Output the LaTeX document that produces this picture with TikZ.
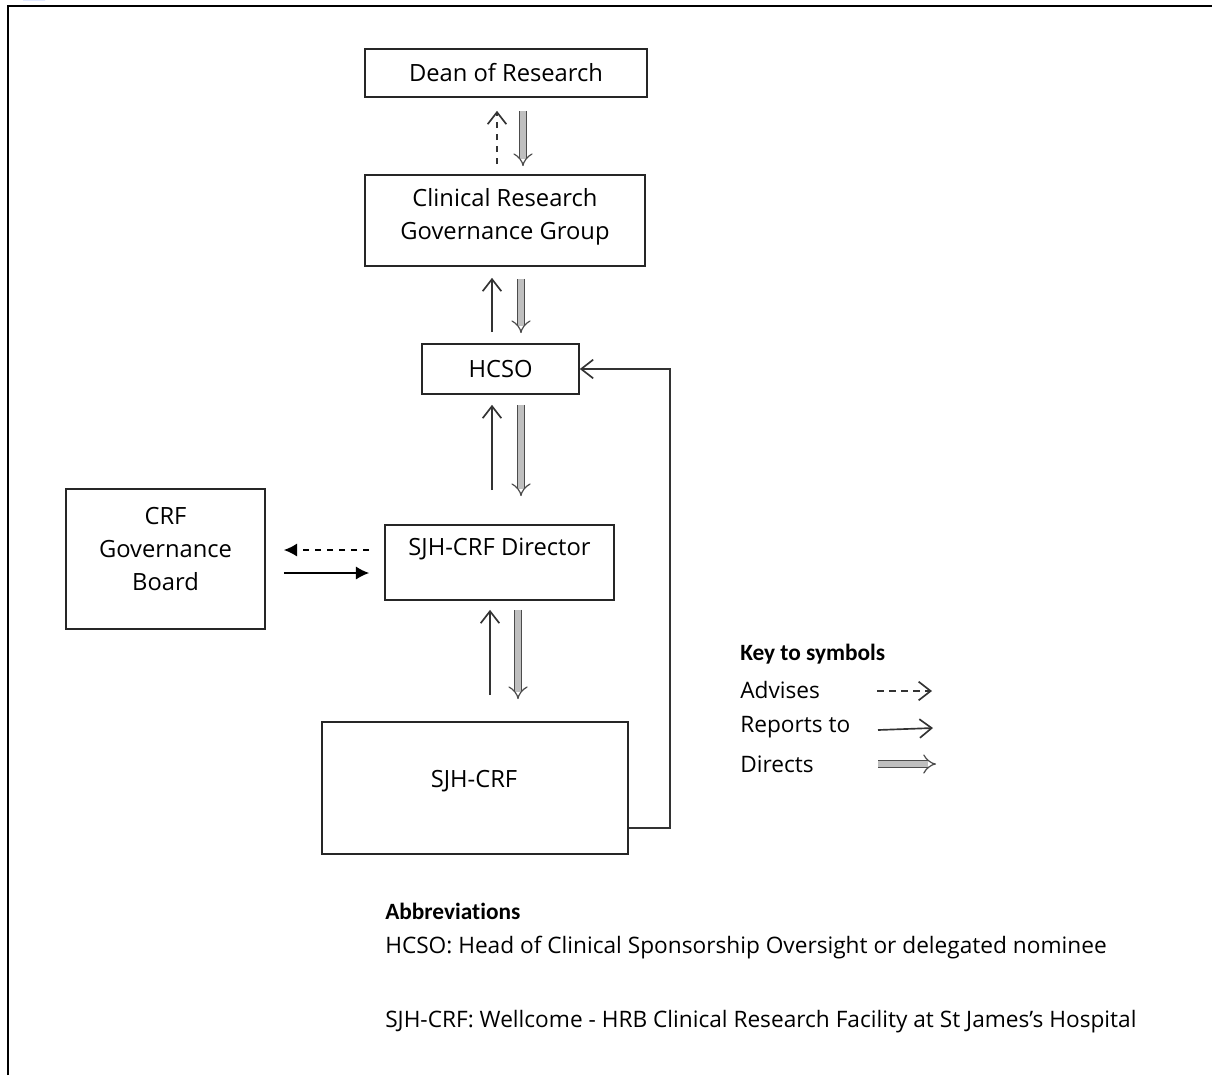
\documentclass[tikz,border=0pt]{standalone}
\usepackage{fontspec}
\setmainfont{Open Sans}
\newfontfamily\hdfont[Ligatures=NoCommon]{Carlito}
\usetikzlibrary{arrows.meta,calc}
\begin{document}
\begin{tikzpicture}[x=0.75pt,y=-0.75pt,
  box/.style={draw=black!85, line width=1.25pt, inner sep=0pt, align=center, font=\fontsize{17.8}{25}\selectfont},
  txt/.style={font=\fontsize{17}{20}\selectfont, inner sep=0pt, anchor=west},
  hd/.style={font=\hdfont\bfseries\fontsize{17.5}{20}\selectfont, inner sep=0pt, anchor=west},
  rep/.style={draw=black!80, line width=1.25pt, -{Straight Barb[length=9pt,width=14pt]}},
  adv/.style={rep, dash pattern=on 5pt off 4pt},
  dirarrow/.style={draw=black!70, double=black!25, double distance=4.2pt, line width=0.9pt, -{Implies[]}},
  fillrep/.style={draw=black, line width=1.2pt, -{Latex[length=10pt,width=10pt]}},
  filladv/.style={fillrep, dash pattern=on 5pt off 4pt},
  frame/.style={draw=black, line width=1.6pt}
]
\useasboundingbox (0,0) rectangle (1212,1075);
% cropped icon fragment and frame
\fill[blue!75!cyan] (23,0) arc[start angle=180, end angle=360, x radius=11, y radius=3] -- cycle;
\draw[frame] (8,1075) -- (8,6) -- (1212,6);

% boxes
\node[box, minimum width=211.5pt, minimum height=36pt] (dean) at (506,73) {Dean of Research};
\node[box, minimum width=210pt, minimum height=68.25pt] (crgg) at (505,220.5) {};
\node[box, draw=none] (crggtext) at ($(crgg.center)+(0,-4)$) {Clinical Research\\Governance Group};
\node[box, minimum width=117.75pt, minimum height=37.5pt] (hcso) at (500.5,369) {HCSO};
\node[box, minimum width=149.25pt, minimum height=105pt] (board) at (165.5,559) {};
\node[box, draw=none] (boardtext) at ($(board.center)+(0,-10)$) {CRF\\Governance\\Board};
\node[box, minimum width=171.75pt, minimum height=56.25pt] (dir) at (499.5,562.5) {};
\node[box, draw=none] (dirtext) at ($(dir.center)+(0,-13)$) {SJH-CRF Director};
\node[box, minimum width=229.5pt, minimum height=99pt] (sjh) at (475,788) {};
\node[box, draw=none] (sjhtext) at ($(sjh.center)+(-1,-7)$) {SJH-CRF};

% vertical connectors
\draw[adv] ($(crgg.north)+(-8,-10)$) -- ($(dean.south)+(-9,13)$);
\draw[dirarrow] ($(dean.south)+(17,13)$) -- ($(crgg.north)+(18,-8)$);
\draw[rep] ($(hcso.north)+(-8.5,-11)$) -- ($(crgg.south)+(-13,11)$);
\draw[dirarrow] ($(crgg.south)+(16,12)$) -- ($(hcso.north)+(20.5,-10)$);
\draw[rep] ($(dir.north)+(-7.5,-34)$) -- ($(hcso.south)+(-8.5,10)$);
\draw[dirarrow] ($(hcso.south)+(20.5,10)$) -- ($(dir.north)+(21.5,-28)$);
\draw[rep] ($(sjh.north)+(15,-26)$) -- ($(dir.south)+(-9.5,9)$);
\draw[dirarrow] ($(dir.south)+(18.5,9)$) -- ($(sjh.north)+(43,-22)$);

% horizontal connectors
\draw[filladv] ($(dir.west)+(-15,-12.5)$) -- ($(board.east)+(18,-9)$);
\draw[fillrep] ($(board.east)+(18,14)$) -- ($(dir.west)+(-15,10.5)$);

% loop from SJH-CRF to HCSO
\draw[rep] ($(sjh.east)+(0,40)$) -- ++(41,0) |- (hcso.east);

% key
\node[hd] (keyhd) at (740,654) {Key to symbols};
\node[txt] (keyadv) at (740,690) {Advises};
\node[txt] (keyrep) at (740,727) {Reports to};
\node[txt] (keydir) at (740,764) {Directs};
\coordinate (ka1) at (877,691); \coordinate (ka2) at (932,691);
\coordinate (kr1) at (878,730); \coordinate (kr2) at (933,728);
\coordinate (kd1) at (878,764); \coordinate (kd2) at (936,764);
\draw[adv] (ka1) -- (ka2);
\draw[rep] (kr1) -- (kr2);
\draw[dirarrow] (kd1) -- (kd2);

% abbreviations
\node[hd] (abhd) at (385,911) {Abbreviations};
\node[txt] (ab1) at (385,948) {HCSO: Head of Clinical Sponsorship Oversight or delegated nominee};
\node[txt] (ab2) at (385,1022) {SJH-CRF: Wellcome - HRB Clinical Research Facility at St James\char39 s Hospital};
\end{tikzpicture}
\end{document}
